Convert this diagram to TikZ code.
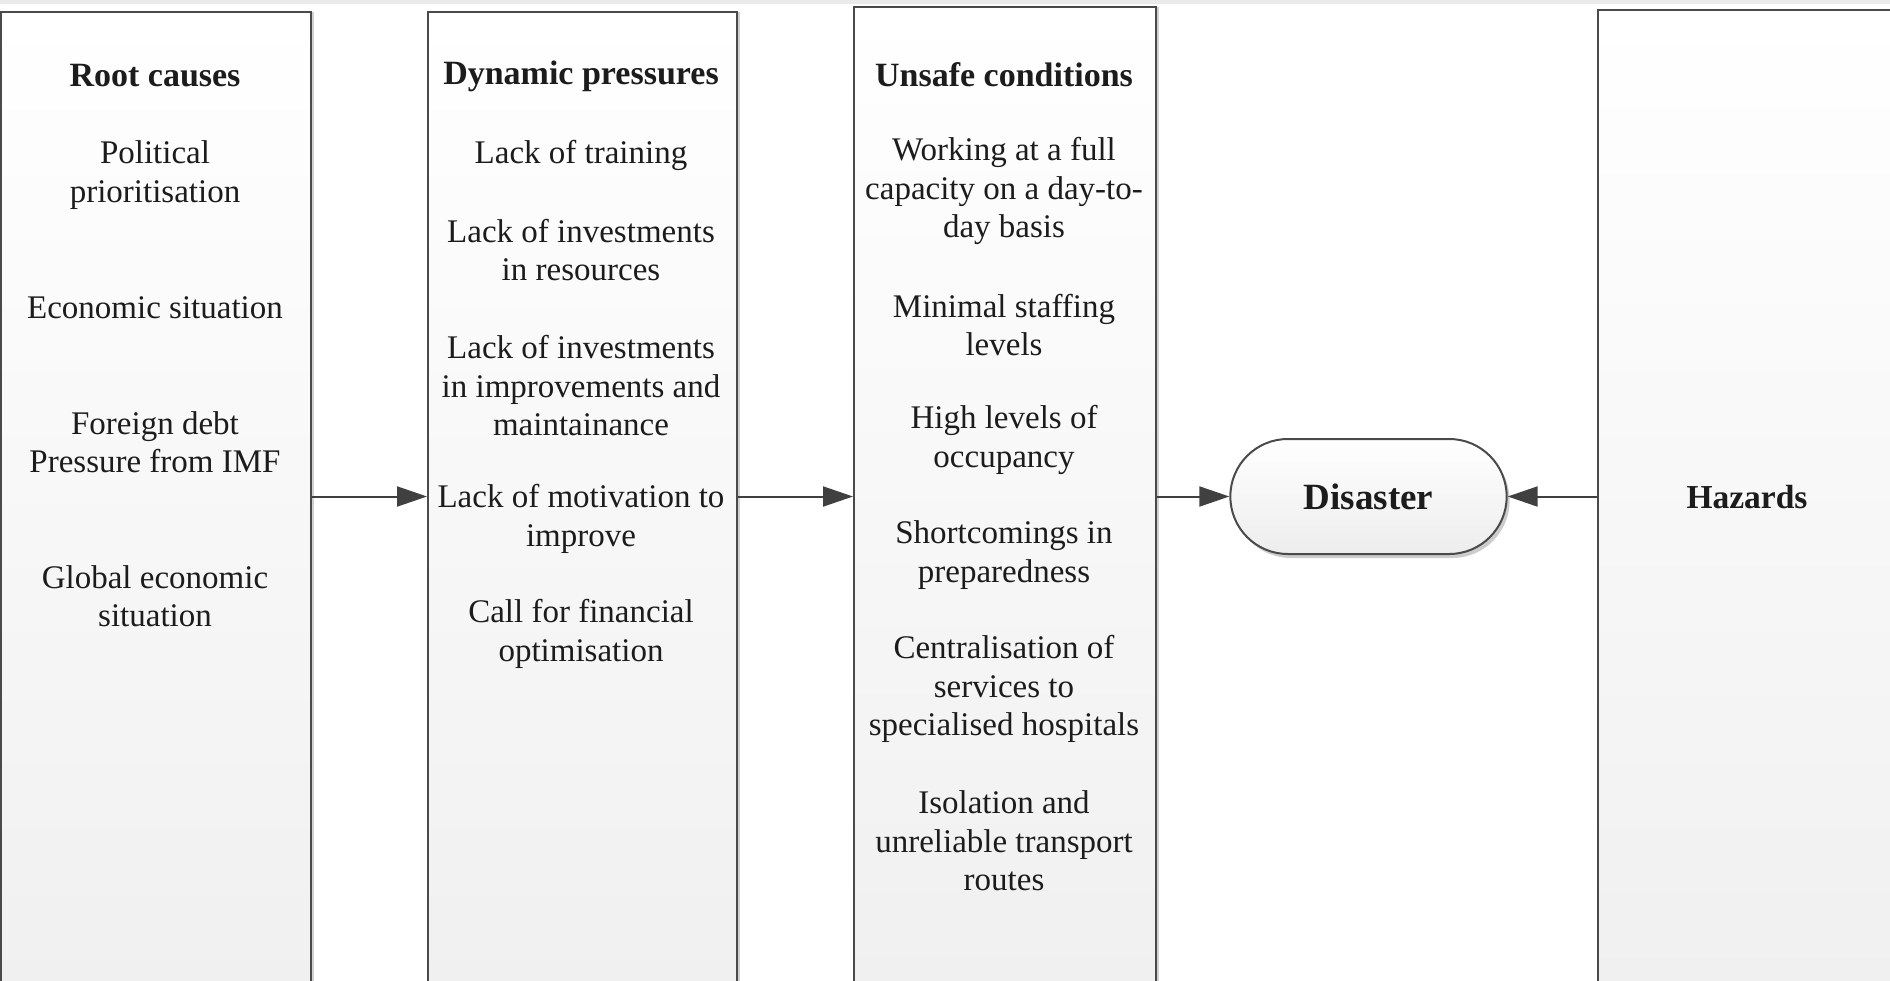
\documentclass[tikz,border=0pt]{standalone}
\usepackage{fontspec}
\setmainfont{Liberation Serif}
\usepackage{tikz}
\usetikzlibrary{arrows.meta,positioning,shapes.misc,shadows}
\definecolor{linegray}{RGB}{74,74,74}
\definecolor{arrowgray}{RGB}{64,64,64}
\definecolor{txtgray}{RGB}{28,28,28}
\definecolor{bandgray}{RGB}{234,234,234}
\newcommand{\itemfont}{\fontsize{33}{38.5}\selectfont}
\newcommand{\headfont}{\fontsize{34}{38.5}\selectfont\bfseries}
\newcommand{\bigheadfont}{\fontsize{37}{40}\selectfont\bfseries}

\begin{document}
\begin{tikzpicture}[
    x=1pt, y=-1pt,
    colbox/.style={draw=linegray, line width=2pt, anchor=north west, minimum height=1000pt,
        top color=white, bottom color=black!6, inner sep=0pt,
        drop shadow={shadow xshift=3pt, shadow yshift=0pt, opacity=0.18, fill=black}},
    item/.style={align=center, font=\itemfont, inner sep=0pt, text=txtgray},
    head/.style={item, font=\headfont},
    disasterbox/.style={rounded rectangle, draw=linegray, line width=2pt, minimum width=283pt,
        minimum height=115pt, top color=white, bottom color=black!7, font=\bigheadfont, text=txtgray,
        drop shadow={shadow xshift=3pt, shadow yshift=-4pt, opacity=0.2, fill=black}},
    arr/.style={draw=arrowgray, line width=2pt, -{Triangle[length=30pt, width=20pt]}}
]
\useasboundingbox (0,0) rectangle (1890,980);
\clip (0,0) rectangle (1890,980);
\fill[bandgray] (0,0) rectangle (1890,4);

% columns
\node[colbox, minimum width=310pt] (rootbox) at (0,11) {};
\node[colbox, minimum width=309pt] (dynbox) at (427,11) {};
\node[colbox, minimum width=302pt] (unsafebox) at (853,6) {};
\node[colbox, minimum width=320pt] (hazbox) at (1597,9) {};

% root causes
\node[head] (roothead) at (155,76) {Root causes};
\node[item] (political) at (155,175) {Political\\prioritisation};
\node[item] (economic) at (155,308) {Economic situation};
\node[item] (debt) at (155,442) {Foreign debt\\Pressure from IMF};
\node[item] (global) at (155,596) {Global economic\\situation};

% dynamic pressures
\node[head] (dynhead) at (581,76) {Dynamic pressures};
\node[item] (training) at (581,155) {Lack of training};
\node[item] (resources) at (581,250) {Lack of investments\\in resources};
\node[item] (improve) at (581,386) {Lack of investments\\in improvements and\\maintainance};
\node[item] (motivation) at (581,519) {Lack of motivation to\\improve};
\node[item] (optimise) at (581,634) {Call for financial\\optimisation};

% unsafe conditions
\node[head] (unsafehead) at (1004,75) {Unsafe conditions};
\node[item] (capacity) at (1004,191) {Working at a full\\capacity on a day-to-\\day basis};
\node[item] (staffing) at (1004,325) {Minimal staffing\\levels};
\node[item] (occupancy) at (1004,440) {High levels of\\occupancy};
\node[item] (prepared) at (1004,555) {Shortcomings in\\preparedness};
\node[item] (central) at (1004,689) {Centralisation of\\services to\\specialised hospitals};
\node[item] (isolation) at (1004,841) {Isolation and\\unreliable transport\\routes};

% disaster and hazards
\node[disasterbox] (disaster) at (1368.5,496.5) {Disaster};
\node[head, font=\fontsize{33.5}{38}\selectfont\bfseries] (hazards) at (1747,497) {Hazards};

\draw[arr] (rootbox.east |- disaster) -- (dynbox.west |- disaster);
\draw[arr] (dynbox.east |- disaster) -- (unsafebox.west |- disaster);
\draw[arr] (unsafebox.east |- disaster) -- (disaster.west);
\draw[arr] (hazbox.west |- disaster) -- (disaster.east);
\end{tikzpicture}
\end{document}
